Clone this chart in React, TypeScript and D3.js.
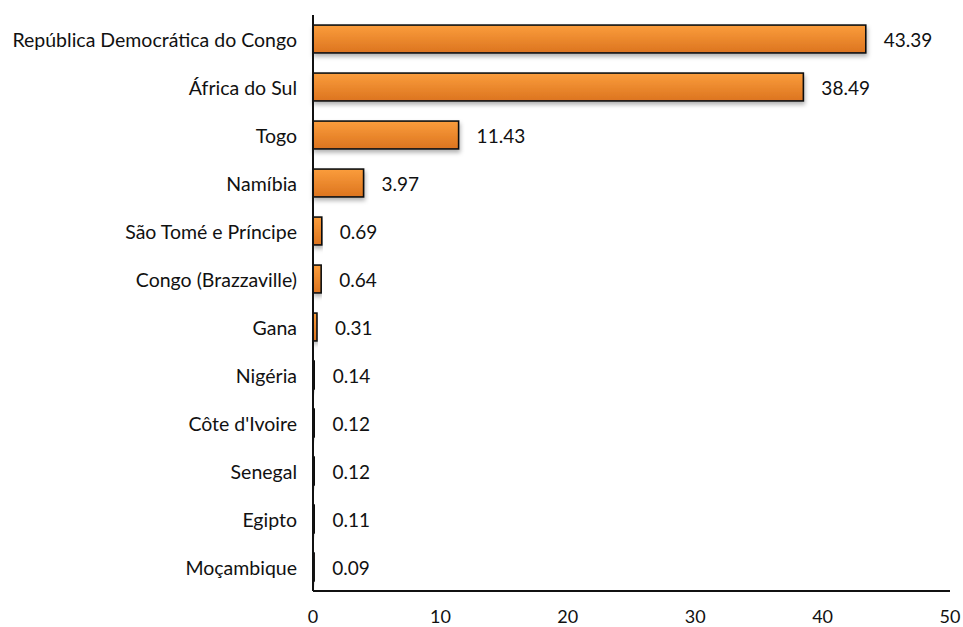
import React from "react";
import * as d3 from "d3";

const countries = [
  "República Democrática do Congo",
  "África do Sul",
  "Togo",
  "Namíbia",
  "São Tomé e Príncipe",
  "Congo (Brazzaville)",
  "Gana",
  "Nigéria",
  "Côte d'Ivoire",
  "Senegal",
  "Egipto",
  "Moçambique",
];
const values = [43.39, 38.49, 11.43, 3.97, 0.69, 0.64, 0.31, 0.14, 0.12, 0.12, 0.11, 0.09];
const xTicks = [0, 10, 20, 30, 40, 50];

const W = 963;
const H = 627;
const FONT = "Lato, 'Open Sans', sans-serif";

export default function App() {
  const x = d3.scaleLinear().domain([0, 50]).range([313, 950]);
  const y = d3.scaleBand<string>().domain(countries).range([15, 591]).paddingInner(0.42).paddingOuter(0.21);
  const x0 = x(0);

  return (
    <svg width={W} height={H} style={{ position: "absolute", left: 0, top: 0 }}>
      <defs>
        <linearGradient id="barGrad" x1="0" y1="0" x2="0" y2="1">
          <stop offset="0%" stopColor="#fb9d3c" />
          <stop offset="100%" stopColor="#dc741f" />
        </linearGradient>
        <filter id="shadow" x="-10%" y="-30%" width="120%" height="180%">
          <feDropShadow dx="1" dy="3" stdDeviation="2" floodColor="#000" floodOpacity="0.3" />
        </filter>
      </defs>

      {countries.map((c, i) => {
        const yy = y(c)!;
        const bw = y.bandwidth();
        const w = x(values[i]) - x0;
        return (
          <g key={c}>
            <rect
              x={x0}
              y={yy}
              width={Math.max(w, 0.5)}
              height={bw}
              fill="url(#barGrad)"
              stroke="#111"
              strokeWidth={1.6}
              filter="url(#shadow)"
            />
            <text
              x={x0 - 16}
              y={yy + bw / 2}
              textAnchor="end"
              dominantBaseline="central"
              fontFamily={FONT}
              fontSize={19.5}
              fill="#111"
            >
              {c}
            </text>
            <text
              x={x(values[i]) + 18}
              y={yy + bw / 2}
              dominantBaseline="central"
              fontFamily={FONT}
              fontSize={19}
              fill="#111"
            >
              {values[i].toFixed(2)}
            </text>
          </g>
        );
      })}

      <line x1={x0} x2={x0} y1={15} y2={591} stroke="#111" strokeWidth={2} />
      <line x1={x0} x2={x(50)} y1={591} y2={591} stroke="#111" strokeWidth={2} />

      {xTicks.map((t) => (
        <text
          key={t}
          x={x(t)}
          y={616}
          textAnchor="middle"
          dominantBaseline="central"
          fontFamily={FONT}
          fontSize={18}
          fill="#111"
        >
          {t}
        </text>
      ))}
    </svg>
  );
}
